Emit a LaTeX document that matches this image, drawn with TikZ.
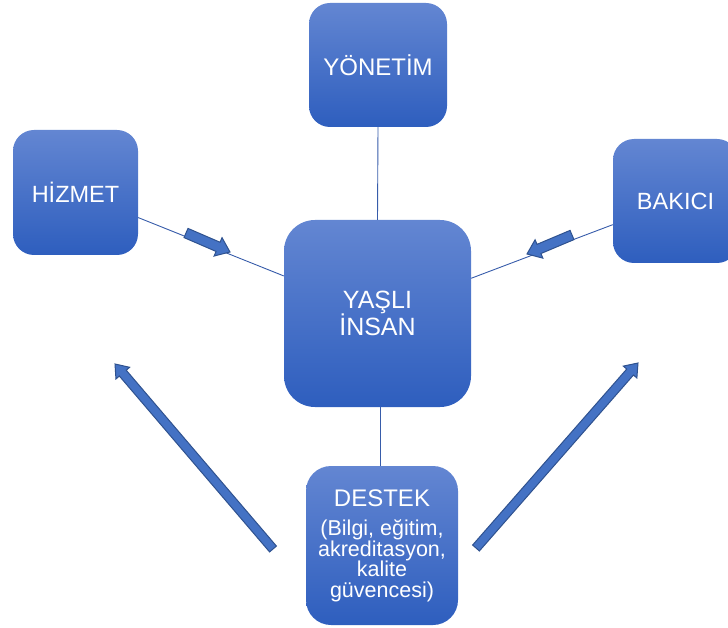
\documentclass[tikz,border=0pt]{standalone}
\usepackage{fontspec}
\setmainfont{Liberation Sans}
\usetikzlibrary{calc}

\definecolor{boxtop}{RGB}{99,134,210}
\definecolor{boxbot}{RGB}{46,94,190}
\definecolor{linkblue}{RGB}{55,92,170}
\definecolor{arrowfill}{RGB}{68,114,196}
\definecolor{arrowedge}{RGB}{47,82,143}

\tikzset{
  card/.style={draw=none, rounded corners=#1, top color=boxtop, bottom color=boxbot,
    text=white, inner sep=0pt, align=center},
  link/.style={draw=linkblue, line width=0.9pt},
  blockarrow/.style={fill=arrowfill, draw=arrowedge, line width=1pt, line join=miter}
}

% block arrow from #1 (tail) to #2 (tip): body half width #3, head half width #4, head length #5
\newcommand{\blockarrowpath}[5]{%
  \coordinate (neck) at ($(#2)!#5!(#1)$);
  \draw[blockarrow]
    ($(#1)!#3!90:(#2)$) -- ($(neck)!#3!-90:(#1)$) -- ($(neck)!#4!-90:(#1)$) -- (#2)
    -- ($(neck)!#4!90:(#1)$) -- ($(neck)!#3!90:(#1)$) -- ($(#1)!#3!-90:(#2)$) -- cycle;
}

\begin{document}
\begin{tikzpicture}[x=1pt,y=-1pt]
  \path[use as bounding box, clip] (0,0) rectangle (728,628);

  % boxes
  \node[card=21pt, minimum width=138pt, minimum height=124pt,
        font=\fontsize{24}{26}\selectfont] (yonetim) at (378,65) {YÖNETİM};
  \node[card=21pt, minimum width=125pt, minimum height=125pt,
        font=\fontsize{23.5}{26}\selectfont] (hizmet) at (75.5,192.5) {HİZMET};
  \node[card=21pt, minimum width=125pt, minimum height=124pt,
        font=\fontsize{23.5}{26}\selectfont] (bakici) at (675.5,201) {BAKICI};
  \node[card=31pt, minimum width=187pt, minimum height=187pt,
        font=\fontsize{25}{27}\selectfont] (yasli) at (377.5,313.5) {YAŞLI\\İNSAN};
  \node[card=25pt, minimum width=152pt, minimum height=159pt,
        font=\fontsize{21.5}{20.5}\selectfont] (destek) at (382,545.5)
        {{\fontsize{24}{26}\selectfont DESTEK}\\[9pt](Bilgi, eğitim,\\akreditasyon,\\kalite\\güvencesi)};

  % connectors
  \draw[link] (yonetim.south) -- (yasli.north);
  \draw[link] (destek.north -| 380,0) -- (yasli.south -| 380,0);
  \draw[link] (hizmet) -- (yasli);
  \draw[link] (bakici) -- (yasli);

  % block arrows
  \coordinate (la1) at (186,233);
  \coordinate (la2) at (230,252);
  \coordinate (ra1) at (572,235);
  \coordinate (ra2) at (527,254);
  \coordinate (bl1) at (273,549);
  \coordinate (bl2) at (115,364);
  \coordinate (br1) at (476,548);
  \coordinate (br2) at (638,363);
  \blockarrowpath{la1}{la2}{5pt}{10pt}{13pt}
  \blockarrowpath{ra1}{ra2}{5pt}{10pt}{13pt}
  \blockarrowpath{bl1}{bl2}{4.5pt}{9pt}{12pt}
  \blockarrowpath{br1}{br2}{4.5pt}{9pt}{12pt}
\end{tikzpicture}
\end{document}
